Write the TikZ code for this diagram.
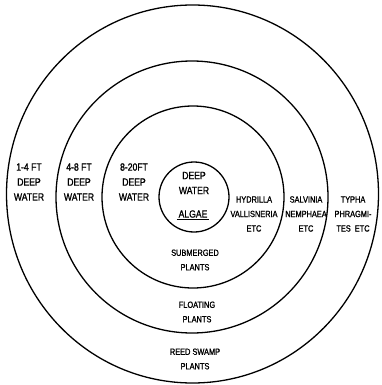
\documentclass[tikz,border=0pt]{standalone}
\usepackage{fontspec}
\newfontfamily\handfont[FakeStretch=0.82, FakeBold=1.2]{Liberation Sans}
\usetikzlibrary{positioning}

\begin{document}
\begin{tikzpicture}[
    x=1pt, y=-1pt,
    ring/.style={line width=1.3pt},
    zone/.style={align=center, inner sep=0pt, font=\handfont\fontsize{10.5}{15}\selectfont},
    small/.style={zone, font=\handfont\fontsize{9}{14.5}\selectfont},
  ]
  \useasboundingbox (0,0) rectangle (382,385);
  % --- rings (outer to inner) ---
  \draw[ring] (192.5,194) ellipse [x radius=186, y radius=189];
  \draw[ring] (192,197) circle [radius=136];
  \draw[ring] (193,197) circle [radius=91];
  \draw[ring] (194,197) circle [radius=35];
  % --- water depth per ring ---
  \foreach \nm/\x/\dep in {shallow/29/1-4 FT, middle/79/4-8 FT, deep/134/8-20FT}{
    \node[zone] (\nm) at (\x,182) {\dep\\DEEP\\WATER};
  }
  % --- centre ---
  \node[zone] (centre) at (194,183) {DEEP\\WATER};
  \node[zone] (algae) at (193,215) {\underline{\,ALGAE\,}};
  % --- plants per ring (right side) ---
  \node[small] (hydrilla) at (254,214) {HYDRILLA\\VALLISNERIA\\ETC};
  \node[small] (salvinia) at (306,214) {SALVINIA\\NEMPHAEA\\ETC};
  \node[small] (typha) at (353,214) {TYPHA\\PHRAGMI-\\TES\ \ ETC};
  % --- zone names (bottom) ---
  \node[small] (submerged) at (195,260) {SUBMERGED\\PLANTS};
  \node[small] (floating) at (197,312) {FLOATING\\PLANTS};
  \node[small] (reed) at (195,359) {REED SWAMP\\PLANTS};
\end{tikzpicture}
\end{document}
